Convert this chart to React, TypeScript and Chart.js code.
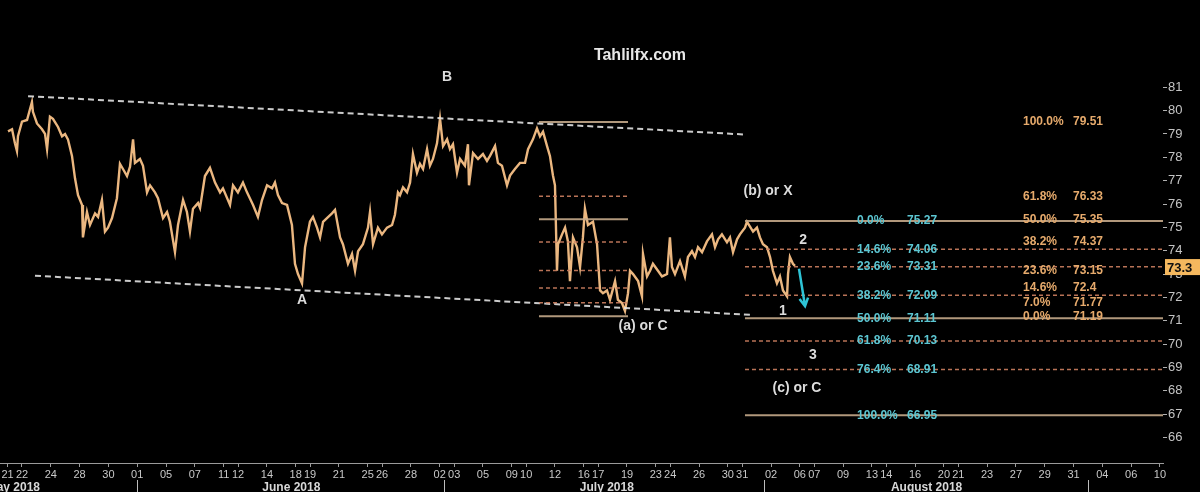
import React, { useEffect, useRef } from 'react';
import { Chart, registerables } from 'chart.js';

Chart.register(...registerables);

// ---- x axis: trading-day index (0 = 22 May 2018) ----
const X_MIN = -1.527;
const X_MAX = 79.21;
const Y_MIN = 64.91;
const Y_MAX = 84.36;

const tickDays = [-1, 0, 2, 4, 6, 8, 10, 12, 14, 15, 17, 19, 20, 22, 24, 25, 27, 29, 30, 32, 34, 35, 37, 39, 40, 42, 44, 45, 47, 49, 50, 52, 54, 55, 57, 59, 60, 62, 64, 65, 67, 69, 71, 73, 75, 77, 79];
const tickLabels = ['21', '22', '24', '28', '30', '01', '05', '07', '11', '12', '14', '18', '19', '21', '25', '26', '28', '02', '03', '05', '09', '10', '12', '16', '17', '19', '23', '24', '26', '30', '31', '02', '06', '07', '09', '13', '14', '16', '20', '21', '23', '27', '29', '31', '04', '06', '10'];

const monthNames = ['May 2018', 'June 2018', 'July 2018', 'August 2018'];
const monthCenters = [-0.6, 18.7, 40.6, 62.8];
const monthStarts = [8, 29.3, 51.5, 74];

const yTicks = [66, 67, 68, 69, 70, 71, 72, 73, 74, 75, 76, 77, 78, 79, 80, 81];

// ---- price series ----
const priceT = [
  -0.97, -0.69, -0.49, -0.35, -0.28, 0, 0.35, 0.69, 0.76, 1.04, 1.39, 1.6, 1.74, 1.94, 2.15, 2.5, 2.78, 2.99, 3.19, 3.47,
  3.68, 3.89, 4.17, 4.23, 4.51, 4.72, 5.07, 5.28, 5.55, 5.76, 5.97, 6.25, 6.59, 6.8, 7.01, 7.29, 7.5, 7.71, 7.84, 8.19,
  8.4, 8.68, 8.89, 9.23, 9.44, 9.79, 10.07, 10.27, 10.62, 10.83, 11.18, 11.45, 11.66, 11.87, 12.22,
  12.36, 12.7, 13.05, 13.4, 13.75, 13.95, 14.44, 14.65, 14.99, 15.34, 15.62, 16.04, 16.38, 16.66, 17.01, 17.36, 17.56, 17.77,
  18.05, 18.4, 18.74, 18.95, 19.16, 19.44, 19.65, 19.99, 20.2, 20.48, 20.69, 20.9, 21.17, 21.52, 21.73, 22.08, 22.28, 22.63,
  22.91, 23.12, 23.33, 23.67, 24.02, 24.16, 24.37, 24.71, 24.99, 25.34, 25.69, 25.89, 26.1,
  26.24, 26.45, 26.73, 26.94, 27.14, 27.42, 27.63, 27.84, 28.12, 28.32, 28.53, 28.81, 29.02, 29.23, 29.51, 29.71, 29.92,
  30.2, 30.41, 30.75, 30.96, 31.03, 31.31, 31.66, 32.0, 32.28, 32.49, 32.84, 33.04, 33.32, 33.67, 33.88, 34.22, 34.57,
  34.92, 35.13, 35.47, 35.75, 35.96, 36.17, 36.45, 36.65, 36.86, 37.0, 37.14, 37.21, 37.49, 37.7, 37.9, 38.04, 38.25,
  38.53, 38.74, 38.94, 39.08, 39.29, 39.64, 39.92, 40.13,
  40.33, 40.61, 40.82, 41.17, 41.37, 41.65, 41.86, 42.07, 42.21, 42.42, 42.77, 43.04, 43.11, 43.39, 43.6, 43.8, 44.15,
  44.43, 44.78, 44.98, 45.12, 45.33, 45.68, 46.02, 46.23, 46.51, 46.72, 46.93, 47.21, 47.55, 47.9, 48.11, 48.32, 48.59,
  48.94, 49.15, 49.36, 49.64, 49.84, 50.19, 50.33, 50.54, 50.75, 51.02, 51.23, 51.44, 51.72, 51.93, 52.13, 52.41, 52.62,
  52.83, 53.11, 53.18, 53.31, 53.52, 53.66
];
const priceV = [
  79.11, 79.2, 78.6, 78.27, 78.9, 79.53, 79.6, 80.37, 79.95, 79.45, 79.2, 79.0, 78.35, 79.74, 79.65, 79.3, 78.9, 79.0, 78.77, 78.06,
  77.1, 76.38, 75.96, 74.57, 75.66, 75.1, 75.6, 75.45, 76.17, 74.82, 74.99, 75.4, 76.25, 77.72, 77.5, 77.2, 77.6, 78.77, 77.76, 77.93,
  77.64, 76.5, 76.8, 76.5, 76.25, 75.4, 75.66, 75.24, 73.94, 75.1, 76.17, 75.66, 74.82, 75.8, 76.04,
  75.83, 77.2, 77.55, 76.92, 76.5, 76.67, 75.96, 76.8, 76.5, 76.92, 76.5, 75.96, 75.45, 76.17, 76.8, 76.67, 76.92, 76.38,
  76.04, 75.96, 75.1, 73.44, 73.0, 72.6, 74.15, 75.24, 75.45, 74.99, 74.57, 75.24, 75.4, 75.6, 75.75, 74.57, 74.28, 73.44,
  73.86, 73.14, 73.98, 74.28, 74.99, 75.66, 74.28, 74.99, 74.7, 74.99, 75.1, 75.54, 76.5,
  76.38, 76.71, 76.5, 76.92, 78.14, 77.34, 77.72, 77.5, 78.35, 77.64, 77.93, 78.6, 79.66, 78.48, 78.77, 78.35, 78.56,
  77.34, 77.93, 77.64, 78.56, 76.8, 78.18, 77.93, 78.14, 77.85, 78.06, 78.48, 77.76, 77.64, 76.8, 77.22, 77.5, 77.76,
  77.76, 78.35, 78.77, 79.24, 78.9, 79.1, 78.48, 78.06, 77.22, 76.8, 73.14, 74.28, 74.7, 74.99, 74.4, 72.7, 74.57,
  74.15, 73.3, 74.57, 75.8, 75.1, 75.24, 74.28, 72.3,
  72.18, 72.3, 71.9, 72.7, 71.9, 71.76, 71.42, 72.18, 73.14, 73.0, 72.7, 72.05, 73.86, 72.9, 73.14, 73.44, 73.14,
  72.9, 73.0, 74.57, 73.3, 73.0, 73.56, 72.9, 73.73, 73.98, 73.73, 74.15, 73.94, 74.4, 74.7, 74.15, 74.49, 74.7,
  74.36, 74.57, 73.94, 74.49, 74.7, 74.99, 75.24, 75.03, 74.82, 74.99, 74.57, 74.28, 74.15, 73.73, 73.14, 72.6, 72.9,
  72.3, 72.05, 73.0, 73.73, 73.44, 73.35
];
const lastPrice = 73.3;

// ---- channel lines ----
const upperChannelT = [0.42, 50.05];
const upperChannelV = [80.62, 78.98];
const lowerChannelT = [0.9, 50.68];
const lowerChannelV = [72.93, 71.25];

// ---- Fibonacci sets ----
const fibLeftPct = [100, 61.8, 50, 38.2, 23.6, 14.6, 7.0, 0.0];
const fibLeftVal = [79.51, 76.33, 75.35, 74.37, 73.15, 72.4, 71.77, 71.19];
const fibLeftSpan = [35.89, 42.07];

const fibRightPct = [0.0, 14.6, 23.6, 38.2, 50, 61.8, 76.4, 100];
const fibRightVal = [75.27, 74.06, 73.31, 72.09, 71.11, 70.13, 68.91, 66.95];
const fibRightSpan = [50.19, X_MAX];

// ---- wave labels ----
const waveText = ['B', 'A', '(a) or C', '(b) or X', '2', '1', '3', '(c) or C'];
const waveT = [29.5, 19.44, 43.11, 51.79, 54.22, 52.83, 54.91, 53.8];
const waveV = [81.42, 71.88, 70.79, 76.55, 74.44, 71.42, 69.53, 68.1];

const arrowT = [53.94, 54.36];
const arrowV = [73.23, 71.63];

const titleText = 'Tahlilfx.com';
const titleT = 42.9;
const titleV = 82.34;

const FONT = '"Liberation Sans", Arial, sans-serif';

export default function App() {
  const ref = useRef<HTMLCanvasElement>(null);

  useEffect(() => {
    document.body.style.margin = '0';
    document.body.style.background = '#000';
    const canvas = ref.current!;

    const solid = (p: number) => p === 0 || p === 50 || p === 100;

    const fibDatasets: any[] = [];
    fibLeftVal.forEach((v, i) => {
      fibDatasets.push({
        data: [{ x: fibLeftSpan[0], y: v }, { x: fibLeftSpan[1], y: v }],
        borderColor: solid(fibLeftPct[i]) ? 'rgba(196,168,138,0.9)' : 'rgba(205,128,96,0.9)',
        borderWidth: solid(fibLeftPct[i]) ? 2 : 1.5,
        borderDash: solid(fibLeftPct[i]) ? [] : [4, 3],
        pointRadius: 0,
      });
    });
    fibRightVal.forEach((v, i) => {
      fibDatasets.push({
        data: [{ x: fibRightSpan[0], y: v }, { x: fibRightSpan[1], y: v }],
        borderColor: solid(fibRightPct[i]) ? 'rgba(196,168,138,0.9)' : 'rgba(205,128,96,0.9)',
        borderWidth: solid(fibRightPct[i]) ? 2 : 1.5,
        borderDash: solid(fibRightPct[i]) ? [] : [4, 3],
        pointRadius: 0,
      });
    });

    const channelDatasets = [
      {
        data: upperChannelT.map((t, i) => ({ x: t, y: upperChannelV[i] })),
        borderColor: 'rgba(225,225,225,0.9)',
        borderWidth: 2,
        borderDash: [6, 4],
        pointRadius: 0,
      },
      {
        data: lowerChannelT.map((t, i) => ({ x: t, y: lowerChannelV[i] })),
        borderColor: 'rgba(225,225,225,0.9)',
        borderWidth: 2,
        borderDash: [6, 4],
        pointRadius: 0,
      },
    ];

    const priceDataset = {
      data: priceT.map((t, i) => ({ x: t, y: priceV[i] })),
      borderColor: '#ebb780',
      borderWidth: 2.4,
      pointRadius: 0,
      tension: 0,
    };

    const bgPlugin = {
      id: 'bg',
      beforeDraw(chart: any) {
        const c = chart.ctx;
        c.save();
        c.fillStyle = '#000';
        c.fillRect(0, 0, chart.width, chart.height);
        c.restore();
      },
    };

    const annPlugin = {
      id: 'ann',
      afterDraw(chart: any) {
        const c: CanvasRenderingContext2D = chart.ctx;
        const xs = chart.scales.x;
        const ys = chart.scales.y;
        const px = (t: number) => xs.getPixelForValue(t);
        const py = (v: number) => ys.getPixelForValue(v);
        c.save();
        c.textBaseline = 'middle';

        // title
        c.fillStyle = '#e8e8e8';
        c.font = `bold 16px ${FONT}`;
        c.textAlign = 'center';
        c.fillText(titleText, px(titleT), py(titleV));

        // wave labels
        c.font = `bold 14px ${FONT}`;
        c.fillStyle = '#dcdcdc';
        waveText.forEach((s, i) => c.fillText(s, px(waveT[i]), py(waveV[i])));

        // fib labels
        c.textAlign = 'left';
        c.font = `bold 12px ${FONT}`;
        c.fillStyle = '#5cc6d2';
        fibRightVal.forEach((v, i) => {
          c.fillText(fibRightPct[i].toFixed(1) + '%', px(57.97), py(v));
          c.fillText(String(v), px(61.44), py(v));
        });
        c.fillStyle = '#e6aa6c';
        fibLeftVal.forEach((v, i) => {
          c.fillText(fibLeftPct[i].toFixed(1) + '%', px(69.49), py(v));
          c.fillText(String(v), px(72.96), py(v));
        });

        // arrow
        const x0 = px(arrowT[0]), y0 = py(arrowV[0]);
        const x1 = px(arrowT[1]), y1 = py(arrowV[1]);
        c.strokeStyle = '#2ec4d6';
        c.lineWidth = 2.5;
        c.beginPath();
        c.moveTo(x0, y0);
        c.lineTo(x1, y1);
        const ang = Math.atan2(y1 - y0, x1 - x0);
        const hl = 9;
        c.moveTo(x1 - hl * Math.cos(ang - 0.5), y1 - hl * Math.sin(ang - 0.5));
        c.lineTo(x1, y1);
        c.lineTo(x1 - hl * Math.cos(ang + 0.5), y1 - hl * Math.sin(ang + 0.5));
        c.stroke();

        // last price box
        const ly = py(lastPrice);
        const bx = chart.chartArea.right + 2;
        c.fillStyle = '#f5b85e';
        c.fillRect(bx, ly - 8, 35, 16);
        c.fillStyle = '#111';
        c.font = `bold 13px ${FONT}`;
        c.textAlign = 'left';
        c.fillText(String(lastPrice), bx + 2, ly + 1);

        // month labels
        const my = chart.height - 4;
        c.fillStyle = '#d8d8d8';
        c.font = `bold 12px ${FONT}`;
        c.textAlign = 'center';
        monthNames.forEach((m, i) => c.fillText(m, px(monthCenters[i]), my));
        c.strokeStyle = '#bdbdbd';
        c.lineWidth = 1;
        monthStarts.forEach((t) => {
          const x = Math.round(px(t)) + 0.5;
          c.beginPath();
          c.moveTo(x, chart.height - 12);
          c.lineTo(x, chart.height);
          c.stroke();
        });
        c.restore();
      },
    };

    const chart = new Chart(canvas, {
      type: 'line',
      data: { datasets: [...fibDatasets, ...channelDatasets, priceDataset] as any },
      options: {
        animation: false,
        responsive: false,
        devicePixelRatio: 1,
        layout: { padding: 0, autoPadding: false } as any,
        plugins: { legend: { display: false }, tooltip: { enabled: false }, title: { display: false } },
        scales: {
          x: {
            type: 'linear',
            min: X_MIN,
            max: X_MAX,
            afterBuildTicks: (s: any) => {
              s.ticks = tickDays.map((v) => ({ value: v }));
            },
            afterFit: (s: any) => {
              s.height = 29;
            },
            ticks: {
              autoSkip: false,
              maxRotation: 0,
              minRotation: 0,
              color: '#c8c8c8',
              font: { family: FONT, size: 11 },
              padding: 1,
              callback: (_v: any, i: number) => tickLabels[i],
            },
            grid: { drawOnChartArea: false, drawTicks: true, tickLength: 4, color: '#9a9a9a' },
            border: { display: true, color: '#9a9a9a', dash: [2, 2], width: 1 },
          },
          y: {
            type: 'linear',
            position: 'right',
            min: Y_MIN,
            max: Y_MAX,
            afterBuildTicks: (s: any) => {
              s.ticks = yTicks.map((v) => ({ value: v }));
            },
            afterFit: (s: any) => {
              s.width = 37;
            },
            ticks: {
              color: '#c4c4c4',
              font: { family: FONT, size: 13 },
              padding: 1,
              callback: (v: any) => String(v),
            },
            grid: { drawOnChartArea: false, drawTicks: true, tickLength: 4, color: '#b0b0b0' },
            border: { display: false },
          },
        },
      } as any,
      plugins: [bgPlugin, annPlugin],
    });

    return () => chart.destroy();
  }, []);

  return (
    <div style={{ width: 1200, height: 492, background: '#000' }}>
      <canvas ref={ref} width={1200} height={492} style={{ display: 'block' }} />
    </div>
  );
}
